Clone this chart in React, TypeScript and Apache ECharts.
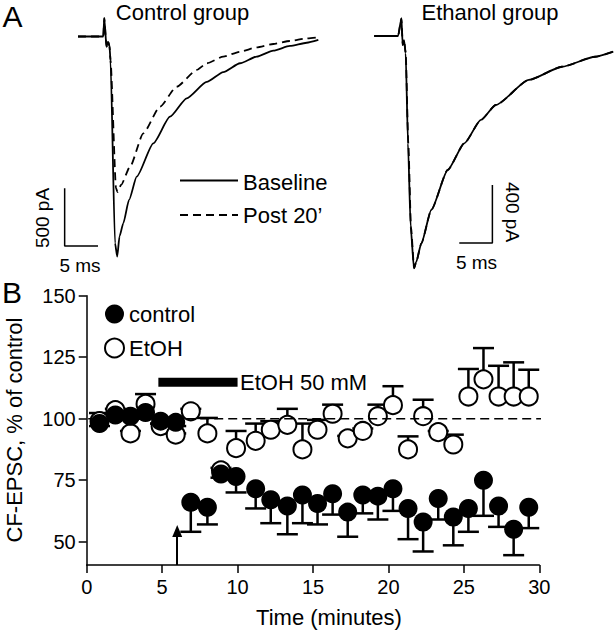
import React, { useEffect, useRef } from "react";
import * as echarts from "echarts";

// ---------- Panel A: traces (ms, pA relative to baseline) ----------
const ctrlBaseT = [0, 3.79, 3.94, 4.27, 4.5, 4.72, 4.87, 5.55, 5.88, 6.22, 6.79, 7.65, 8.8, 11.29, 13.79, 16.3, 19.3, 21.78, 24.29, 26.79, 29.28, 31.78, 34.29, 36.03];
const ctrlBaseI = [0, 0, 158, -88, -45, -82, -204, -1790, -1907, -1733, -1619, -1417, -1215, -926, -695, -536, -394, -308, -232, -175, -123, -82, -54, -30];
const ctrlPostT = [0, 3.79, 3.94, 4.27, 4.5, 4.72, 4.87, 5.7, 5.92, 6.45, 7.8, 9.79, 12.29, 14.8, 17.8, 19.3, 21.78, 24.29, 26.79, 29.28, 31.78, 34.29, 36.03];
const ctrlPostI = [0, 0, 158, -88, -45, -82, -204, -1313, -1348, -1287, -1128, -839, -608, -435, -290, -232, -175, -132, -94, -65, -39, -16, -7];
const ethBaseT = [0, 3.6, 4.11, 4.3, 4.5, 4.75, 5.1, 5.5, 6.0, 6.33, 7.11, 8.61, 11.09, 13.6, 16.1, 18.35, 23.34, 28.34, 33.34, 36.09];
const ethBaseI = [0, 0, 122, -62, -28, -117, -741, -1315, -1602, -1559, -1430, -1200, -924, -740, -579, -476, -303, -212, -143, -108];
const ethPostT = [0, 3.6, 4.11, 4.3, 4.5, 4.75, 5.15, 5.55, 6.02, 6.35, 7.11, 8.61, 11.09, 13.6, 16.1, 18.35, 23.34, 28.34, 33.34, 36.09];
const ethPostI = [0, 0, 122, -62, -28, -117, -741, -1315, -1600, -1557, -1430, -1200, -924, -740, -579, -476, -303, -212, -143, -108];
const ctrlScaleBar = [[-2, -1315], [-2, -1815], [3, -1815]];
const ethScaleBar = [[12.84, -1428], [17.84, -1428], [17.84, -1028]];

// ---------- Panel B: time course ----------
const times = [0.85, 1.9, 2.9, 3.9, 4.9, 5.9, 6.9, 8.0, 8.9, 9.9, 11.2, 12.2, 13.3, 14.3, 15.3, 16.3, 17.3, 18.3, 19.3, 20.3, 21.3, 22.3, 23.3, 24.3, 25.3, 26.3, 27.3, 28.3, 29.3];
const controlMean = [98, 101.5, 101, 102.5, 99, 98.5, 66, 64, 77.5, 76.5, 71.5, 67, 64.5, 69, 65.5, 69.5, 62, 69, 68.5, 71.5, 63.5, 58, 67.5, 60, 63.5, 75, 64.5, 55, 64];
const controlLow = [97, 100, 100, 101, 98, 97, 54, 57, 76, 70, 63.5, 57.5, 53, 57.5, 57, 61, 52, 61.5, 59, 62.5, 51, 46, 59, 48.5, 54, 60.5, 56, 44.5, 55.5];
const etohMean = [99, 103.5, 94, 106, 97, 93.5, 103, 94, 79, 88, 91, 95.5, 97.5, 87.5, 95.5, 102, 92, 95, 101, 105.5, 87.5, 101, 94.5, 89.5, 109, 116, 109, 109, 109];
const etohHigh = [102.3, 104, 95, 110, 98, 94, 104, 100.3, 80, 95, 98, 99, 104, 98, 99.5, 105.7, 93, 96, 105.7, 113.2, 92.8, 107.7, 95, 93.5, 120.2, 128.7, 121.5, 122.9, 119.9];
const yTicks = [50, 75, 100, 125, 150];
const etohBar = [[4.75, 114.8], [10, 114.8]];
const refLine = [[0.1, 100], [30.57, 100]];
const arrowAt = 6;

const FONT = "'Liberation Sans', Arial, Helvetica, sans-serif";

function txt(text: string, x: number, y: number, size: number, align = "center", rotation = 0) {
  return {
    type: "text",
    x,
    y,
    rotation,
    silent: true,
    style: {
      text,
      fill: "#000",
      font: `${size}px ${FONT}`,
      fontSize: size,
      fontFamily: FONT,
      align,
      verticalAlign: "middle",
      textAlign: align,
      textVerticalAlign: "middle",
    },
  };
}

function errRender(params: any, api: any) {
  const x = api.value(0);
  const v = api.value(1);
  const e = api.value(2);
  const p0 = api.coord([x, v]);
  const p1 = api.coord([x, e]);
  const st = { stroke: "#000", lineWidth: 2.5 };
  return {
    type: "group",
    children: [
      { type: "line", shape: { x1: p0[0], y1: p0[1], x2: p1[0], y2: p1[1] }, style: st },
      { type: "line", shape: { x1: p1[0] - 10.5, y1: p1[1], x2: p1[0] + 10.5, y2: p1[1] }, style: st },
    ],
  };
}

export default function App() {
  const ref = useRef<HTMLDivElement>(null);
  useEffect(() => {
    if (!ref.current) return;
    const chart = echarts.init(ref.current, null, { renderer: "svg" });
    const zip = (a: number[], b: number[]) => a.map((v, i) => [v, b[i]]);
    const traceLine = (dashed: boolean) => ({
      color: "#000",
      width: 1.8,
      type: dashed ? [8, 5] : "solid",
    });
    const trace = (xi: number, data: number[][], dashed: boolean) => ({
      type: "line",
      xAxisIndex: xi,
      yAxisIndex: xi,
      data,
      symbol: "none",
      smooth: 0.2,
      smoothMonotone: "x",
      clip: false,
      lineStyle: traceLine(dashed),
    });
    const option: any = {
      animation: false,
      backgroundColor: "#fff",
      textStyle: { fontFamily: FONT },
      grid: [
        { left: 44.65, top: 1.88, width: 300.15, height: 276.96 },
        { left: 360.96, top: 7, width: 256.8, height: 275.5 },
        { left: 86.7, top: 295.7, width: 452.6, height: 269.3 },
      ],
      xAxis: [
        { gridIndex: 0, type: "value", min: -5, max: 40, show: false },
        { gridIndex: 1, type: "value", min: -2, max: 36.5, show: false },
        {
          gridIndex: 2,
          type: "value",
          min: 0,
          max: 30,
          interval: 5,
          axisLine: { show: true, lineStyle: { color: "#000", width: 1.5 } },
          axisTick: { show: true, length: 8, inside: false, lineStyle: { color: "#000", width: 1.5 } },
          axisLabel: { color: "#000", fontSize: 20, margin: 12, fontFamily: FONT },
          splitLine: { show: false },
        },
      ],
      yAxis: [
        { gridIndex: 0, type: "value", min: -2100, max: 300, show: false },
        { gridIndex: 1, type: "value", min: -1700, max: 200, show: false },
        {
          gridIndex: 2,
          type: "value",
          min: 40.5,
          max: 150,
          axisLine: { show: true, lineStyle: { color: "#000", width: 1.5 } },
          axisTick: { show: true, length: 8, inside: false, customValues: yTicks, lineStyle: { color: "#000", width: 1.5 } },
          axisLabel: { color: "#000", fontSize: 20, margin: 11, customValues: yTicks, fontFamily: FONT },
          splitLine: { show: false },
        },
      ],
      legend: {
        left: 99,
        top: 298,
        orient: "vertical",
        itemWidth: 19,
        itemHeight: 19,
        itemGap: 12,
        selectedMode: false,
        textStyle: { color: "#000", fontSize: 22, fontFamily: FONT },
        data: [
          { name: "control", icon: "circle" },
          { name: "EtOH", icon: "emptyCircle" },
        ],
      },
      series: [
        // Panel A control group
        trace(0, zip(ctrlPostT, ctrlPostI), true),
        trace(0, zip(ctrlBaseT, ctrlBaseI), false),
        { type: "line", xAxisIndex: 0, yAxisIndex: 0, data: ctrlScaleBar, symbol: "none", clip: false, lineStyle: { color: "#000", width: 1.5 } },
        // Panel A ethanol group
        trace(1, zip(ethPostT, ethPostI), true),
        trace(1, zip(ethBaseT, ethBaseI), false),
        { type: "line", xAxisIndex: 1, yAxisIndex: 1, data: ethScaleBar, symbol: "none", clip: false, lineStyle: { color: "#000", width: 1.5 } },
        // Panel B
        { type: "line", xAxisIndex: 2, yAxisIndex: 2, data: refLine, symbol: "none", clip: false, lineStyle: { color: "#000", width: 1.5, type: [9, 5] } },
        { type: "line", xAxisIndex: 2, yAxisIndex: 2, data: etohBar, symbol: "none", clip: false, lineStyle: { color: "#000", width: 9, cap: "butt" } },
        {
          type: "line",
          xAxisIndex: 2,
          yAxisIndex: 2,
          data: [],
          markLine: {
            silent: true,
            symbol: ["none", "triangle"],
            symbolSize: [10, 12],
            label: { show: false },
            lineStyle: { color: "#000", width: 2, type: "solid" },
            data: [[{ coord: [arrowAt, 40.5] }, { coord: [arrowAt, 54.3] }]],
          },
        },
        {
          type: "custom",
          name: "etohErr",
          xAxisIndex: 2,
          yAxisIndex: 2,
          renderItem: errRender,
          data: times.map((t, i) => [t, etohMean[i], etohHigh[i]]),
          encode: { x: 0, y: [1, 2] },
          clip: false,
        },
        {
          type: "scatter",
          name: "EtOH",
          xAxisIndex: 2,
          yAxisIndex: 2,
          symbol: "emptyCircle",
          symbolSize: 18,
          itemStyle: { color: "#000", borderColor: "#000", borderWidth: 2.8, opacity: 1 },
          data: zip(times, etohMean),
        },
        {
          type: "custom",
          name: "controlErr",
          xAxisIndex: 2,
          yAxisIndex: 2,
          renderItem: errRender,
          data: times.map((t, i) => [t, controlMean[i], controlLow[i]]),
          encode: { x: 0, y: [1, 2] },
          clip: false,
        },
        {
          type: "scatter",
          name: "control",
          xAxisIndex: 2,
          yAxisIndex: 2,
          symbol: "circle",
          symbolSize: 19,
          itemStyle: { color: "#000", opacity: 1 },
          data: zip(times, controlMean),
        },
      ],
      graphic: [
        txt("A", 12.5, 16, 30),
        txt("B", 12, 292, 30),
        txt("Control group", 182.5, 12, 22),
        txt("Ethanol group", 490, 12, 22),
        { type: "line", shape: { x1: 180, y1: 180.5, x2: 238, y2: 180.5 }, style: { stroke: "#000", lineWidth: 1.8 } },
        { type: "line", shape: { x1: 180, y1: 215, x2: 238, y2: 215 }, style: { stroke: "#000", lineWidth: 1.8, lineDash: [8, 5] } },
        txt("Baseline", 243, 182.5, 22, "left"),
        txt("Post 20\u2019", 243, 215.5, 22, "left"),
        txt("500 pA", 42.5, 218, 19, "center", Math.PI / 2),
        txt("5 ms", 80, 265, 19),
        txt("400 pA", 512.5, 212, 19, "center", -Math.PI / 2),
        txt("5 ms", 476.5, 262.5, 19),
        txt("EtOH 50 mM", 240, 382.5, 22, "left"),
        txt("CF-EPSC, % of control", 14, 430, 22, "center", Math.PI / 2),
        txt("Time (minutes)", 329, 617, 22),
      ],
    };
    chart.setOption(option);
    return () => chart.dispose();
  }, []);
  return (
    <div
      ref={ref}
      style={{ position: "fixed", left: 0, top: 0, width: 616, height: 639, background: "#fff" }}
    />
  );
}
